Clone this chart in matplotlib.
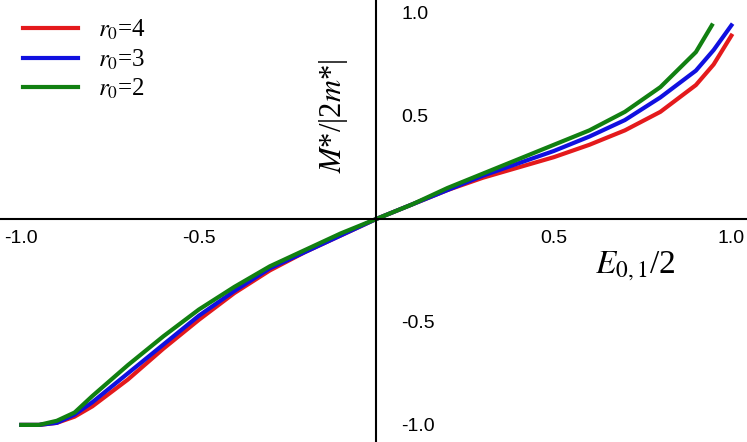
import matplotlib
matplotlib.use("Agg")
import matplotlib as mpl
import matplotlib.pyplot as plt
mpl.rcParams["mathtext.fontset"] = "stix"

x_r4 = [-1.0, -0.95, -0.9, -0.85, -0.8, -0.7, -0.6, -0.5, -0.4, -0.3, -0.2, -0.1, 0.0, 0.1, 0.2, 0.3, 0.4, 0.5, 0.6, 0.7, 0.8, 0.9, 0.95, 1.0]
y_r4 = [-1.0, -1.0, -0.99, -0.96, -0.91, -0.78, -0.63, -0.49, -0.36, -0.25, -0.16, -0.08, 0.0, 0.07, 0.14, 0.2, 0.25, 0.3, 0.36, 0.43, 0.52, 0.65, 0.75, 0.89]
x_r3 = [-1.0, -0.95, -0.9, -0.85, -0.8, -0.7, -0.6, -0.5, -0.4, -0.3, -0.2, -0.1, 0.0, 0.1, 0.2, 0.3, 0.4, 0.5, 0.6, 0.7, 0.8, 0.9, 0.95, 1.0]
y_r3 = [-1.0, -1.0, -0.99, -0.95, -0.89, -0.75, -0.61, -0.47, -0.35, -0.24, -0.16, -0.08, 0.0, 0.07, 0.14, 0.21, 0.27, 0.33, 0.4, 0.48, 0.59, 0.72, 0.82, 0.94]
x_r2 = [-1.0, -0.95, -0.9, -0.85, -0.8, -0.7, -0.6, -0.5, -0.4, -0.3, -0.2, -0.1, 0.0, 0.1, 0.2, 0.3, 0.4, 0.5, 0.6, 0.7, 0.8, 0.9, 0.945]
y_r2 = [-1.0, -1.0, -0.98, -0.94, -0.86, -0.71, -0.57, -0.44, -0.33, -0.23, -0.15, -0.07, 0.0, 0.07, 0.15, 0.22, 0.29, 0.36, 0.43, 0.52, 0.64, 0.81, 0.94]
labels = ["4", "3", "2"]
colors = ["#e41a1c", "#1010e0", "#118011"]

fig = plt.figure(figsize=(7.47, 4.42), dpi=100)
ax = fig.add_axes([0, 0, 1, 1])
for xs, ys, lab, c in zip([x_r4, x_r3, x_r2], [y_r4, y_r3, y_r2], labels, colors):
    ax.plot(xs, ys, color=c, lw=3, label=r"$r_0$=" + lab, solid_joinstyle="round")
ax.set_xlim(-1.06, 1.044)
ax.set_ylim(-1.083, 1.063)
for s in ["top", "right"]:
    ax.spines[s].set_visible(False)
ax.spines["left"].set_position(("data", 0))
ax.spines["bottom"].set_position(("data", 0))
for s in ["left", "bottom"]:
    ax.spines[s].set_linewidth(1.5)
ax.set_xticks([-1.0, -0.5, 0.5, 1.0])
ax.set_yticks([-1.0, -0.5, 0.5, 1.0])
ax.tick_params(which="major", length=0, labelsize=14)
ax.tick_params(axis="x", pad=8)
ax.tick_params(axis="y", pad=-18)
for t in ax.get_yticklabels():
    t.set_horizontalalignment("left")
ax.set_xticklabels(["-1.0", "-0.5", "0.5", "1.0"], family="Liberation Sans", fontsize=14)
ax.set_yticklabels(["-1.0", "-0.5", "0.5", "1.0"], family="Liberation Sans", fontsize=14, ha="left")
ax.text(-0.12, 0.5, r"$M$*/|2$m$*|", rotation=90, ha="center", va="center",
        fontsize=22, family="Liberation Serif")
ax.text(0.73, -0.23, r"$E_{0,1}$/2", ha="center", va="center", fontsize=24, family="Liberation Serif")
ax.legend(loc="upper left", bbox_to_anchor=(0.0, 1.01), frameon=False,
          handlelength=2.2, prop={"family": "Liberation Serif", "size": 18}, labelspacing=0.2)
fig.savefig("out.png", dpi=100)
